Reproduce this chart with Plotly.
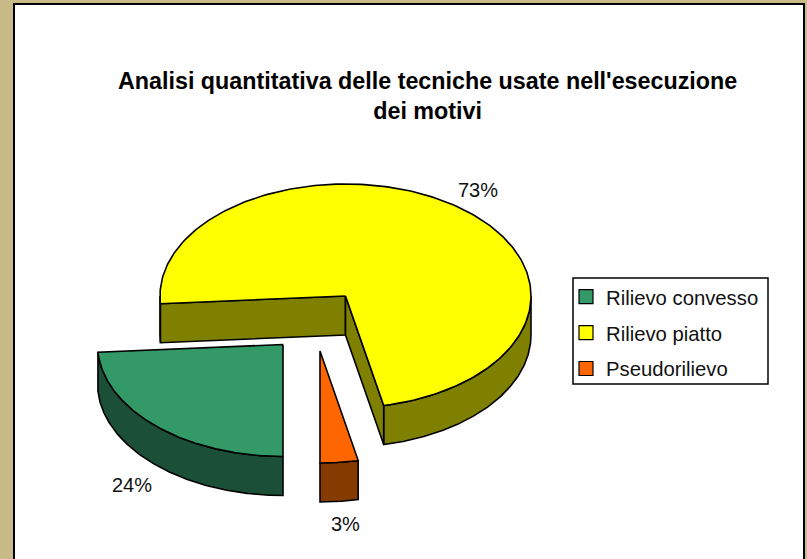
import numpy as np
import plotly.graph_objects as go

# ---- data ----
categories = ["Rilievo convesso", "Rilievo piatto", "Pseudorilievo"]
values = [23.9, 72.8, 3.3]
label_text = ["24%", "73%", "3%"]
title_lines = ["Analisi quantitativa delle tecniche usate nell'esecuzione", "dei motivi"]

# ---- style ----
top_colors = ["#339966", "#FFFF00", "#FF6600"]
side_colors = ["#1C4F37", "#808000", "#853A00"]
frame_color = "#C9BB88"
W, H = 807, 559
first_angle = 180.0
rx, ry, depth = 185.5, 112.0, 39.0
centers = [(283, 344.5), (345.5, 296), (320, 351)]
label_pos = [(131.5, 485), (478, 189.5), (345.5, 524)]

total = sum(values)
edges = first_angle + np.cumsum([0] + [v / total * 360 for v in values])


def rim(c, a0, a1, dy=0.0):
    t = np.radians(np.linspace(a0, a1, 240))
    return c[0] + rx * np.sin(t), c[1] - ry * np.cos(t) + dy


def poly(x, y, color, lw=1.6):
    return go.Scatter(x=list(x), y=list(y), mode="lines", fill="toself", fillcolor=color,
                      line=dict(color="black", width=lw), hoverinfo="skip", showlegend=False)


def wall_quad(c, a):
    x, y = rim(c, a, a)
    px, py = x[0], y[0]
    return ([c[0], px, px, c[0], c[0]], [c[1], py, py + depth, c[1] + depth, c[1]])


fig = go.Figure()

for i in [1, 0, 2]:
    c = centers[i]
    a0, a1 = edges[i], edges[i + 1]
    for k in range(-1, 3):
        lo = max(a0, 90 + 360 * k)
        hi = min(a1, 270 + 360 * k)
        if hi > lo:
            x, y = rim(c, lo, hi)
            xb, yb = rim(c, hi, lo, depth)
            fig.add_trace(poly(np.r_[x, xb, x[0]], np.r_[y, yb, y[0]], side_colors[i]))
    if i == 1:
        for a in (a0, a1):
            qx, qy = wall_quad(c, a)
            fig.add_trace(poly(qx, qy, side_colors[i]))
    x, y = rim(c, a0, a1)
    fig.add_trace(poly(np.r_[c[0], x, c[0]], np.r_[c[1], y, c[1]], top_colors[i]))

for i, name in enumerate(categories):
    fig.add_trace(go.Scatter(x=[None], y=[None], mode="markers", name=name, legendgroup=name,
                             marker=dict(symbol="square", size=14, color=top_colors[i],
                                         line=dict(color="black", width=1.2))))

for (x, y), t in zip(label_pos, label_text):
    fig.add_annotation(x=x, y=y, text=t, showarrow=False,
                       font=dict(family="Liberation Sans", size=20, color="#111111"))

fig.add_annotation(x=427, y=95.5, text="<br>".join(title_lines), showarrow=False, align="center",
                   font=dict(family="Liberation Sans", size=23.3, color="black", weight="bold"))

fig.add_shape(type="rect", x0=14, x1=804, y0=4, y1=H + 10, layer="below",
              line=dict(color="black", width=2), fillcolor="white")
# legend frame
fig.add_shape(type="rect", x0=573, x1=768, y0=278, y1=384, layer="below",
              line=dict(color="black", width=1.5), fillcolor="white")

fig.update_layout(
    width=W, height=H, margin=dict(l=0, r=0, t=0, b=0, pad=0),
    paper_bgcolor=frame_color, plot_bgcolor=frame_color,
    xaxis=dict(range=[0, W], visible=False, fixedrange=True),
    yaxis=dict(range=[H, 0], visible=False, fixedrange=True),
    showlegend=True,
    legend=dict(x=566 / W, y=1 - 277 / H, xanchor="left", yanchor="top",
                bgcolor="rgba(0,0,0,0)", borderwidth=0,
                tracegroupgap=6.5, traceorder="grouped",
                font=dict(family="Liberation Sans", size=20.3, color="#111111")),
)
fig.write_html("out.html", config={"displayModeBar": False},
               post_script="document.body.style.margin='0';document.body.style.overflow='hidden';")
